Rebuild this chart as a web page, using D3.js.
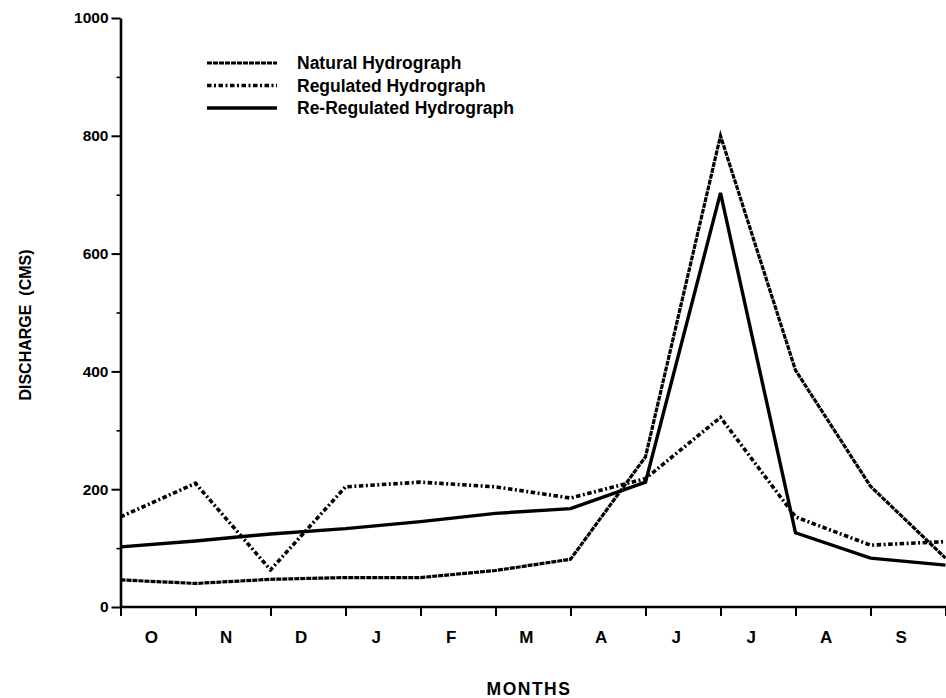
<!DOCTYPE html>
<html>
<head>
<meta charset="utf-8">
<script src="https://cdn.jsdelivr.net/npm/d3@7"></script>
<style>
  body { margin: 0; background: #fff; }
  text { font-family: "Liberation Sans", Arial, Helvetica, sans-serif; font-weight: bold; fill: #000; }
</style>
</head>
<body>
<div id="chart"></div>
<script>
var months = ["O", "N", "D", "J", "F", "M", "A", "J", "J", "A", "S"];
var yTicks = [0, 200, 400, 600, 800, 1000];
var yMinorTicks = [100, 300, 500, 700, 900];
var seriesNames = ["Natural Hydrograph", "Regulated Hydrograph", "Re-Regulated Hydrograph"];
var natural = [46, 40, 47, 50, 50, 62, 81, 255, 800, 402, 205, 83];
var regulated = [153, 210, 63, 204, 212, 204, 185, 218, 322, 153, 105, 111];
var reRegulated = [102, 112, 124, 133, 145, 159, 167, 212, 703, 126, 83, 71];

var width = 946, height = 698;
var config = {
  left: 120.5, right: 945.5, top: 18, bottom: 607
};
var styles = [
  { dash: "5,1", width: 3.2 },
  { dash: "4.5,2.5,2,2.5", width: 3.6 },
  { dash: null, width: 3.4 }
];

var svg = d3.select("#chart").append("svg").attr("width", width).attr("height", height);

var x = d3.scaleLinear().domain([0, natural.length - 1]).range([config.left, config.right]);
var y = d3.scaleLinear().domain([0, 1000]).range([config.bottom, config.top]);
var step = x(1) - x(0);

/*Draw Axes*/
var xAxis = svg.append("g").attr("transform", "translate(0," + config.bottom + ")")
  .call(d3.axisBottom(x).tickValues(d3.range(natural.length)).tickSize(9).tickSizeOuter(0).tickFormat(""));
xAxis.select(".domain").attr("d", "M" + config.left + ",0H" + width).attr("stroke-width", 2.6);
xAxis.selectAll(".tick line").attr("stroke-width", 2);

var yAxis = svg.append("g").attr("transform", "translate(" + config.left + ",0)")
  .call(d3.axisLeft(y).tickValues(yTicks).tickSize(9).tickSizeOuter(0).tickPadding(3).tickFormat(d3.format("d")));
yAxis.select(".domain").attr("stroke-width", 2.6);
yAxis.selectAll(".tick line").attr("stroke-width", 2);
yAxis.selectAll(".tick text").style("font-size", "15.5px");

svg.append("g").attr("transform", "translate(" + config.left + ",0)")
  .call(d3.axisLeft(y).tickValues(yMinorTicks).tickSize(4).tickFormat(""))
  .call(function(g){ g.select(".domain").remove(); })
  .selectAll(".tick line").attr("stroke-width", 1.6);

/*Draw Month Labels*/
svg.selectAll(".month").data(months).enter().append("text")
  .attr("class", "month")
  .attr("x", function(d, i){ return x(i) + step * 0.41; })
  .attr("y", 643)
  .attr("text-anchor", "middle")
  .style("font-size", "17px")
  .text(function(d){ return d; });

/*Axis Titles*/
svg.append("text").attr("x", 529).attr("y", 695).attr("text-anchor", "middle")
  .style("font-size", "17.5px").style("letter-spacing", "1.5px").text("MONTHS");
svg.append("text").attr("transform", "translate(31,325) rotate(-90)").attr("text-anchor", "middle")
  .style("font-size", "16px").style("white-space", "pre").text("DISCHARGE  (CMS)");

/*Draw Lines*/
var line = d3.line().x(function(d, i){ return x(i); }).y(function(d){ return y(d); });
[natural, regulated, reRegulated].forEach(function(data, s){
  svg.append("path").datum(data)
    .attr("d", line)
    .attr("fill", "none")
    .attr("stroke", "#000")
    .attr("stroke-width", styles[s].width)
    .attr("stroke-linejoin", "miter")
    .attr("stroke-dasharray", styles[s].dash);
});

/*Draw Legend*/
var legend = svg.selectAll(".legend").data(seriesNames).enter().append("g")
  .attr("class", "legend")
  .attr("transform", function(d, i){ return "translate(207," + (63 + i * 22.5) + ")"; });
legend.append("line").attr("x1", 0).attr("x2", 70).attr("y1", 0).attr("y2", 0)
  .attr("stroke", "#000")
  .attr("stroke-width", function(d, i){ return styles[i].width; })
  .attr("stroke-dasharray", function(d, i){ return styles[i].dash; });
legend.append("text").attr("x", 90).attr("y", 6)
  .style("font-size", "17.5px")
  .text(function(d){ return d; });
</script>
</body>
</html>
